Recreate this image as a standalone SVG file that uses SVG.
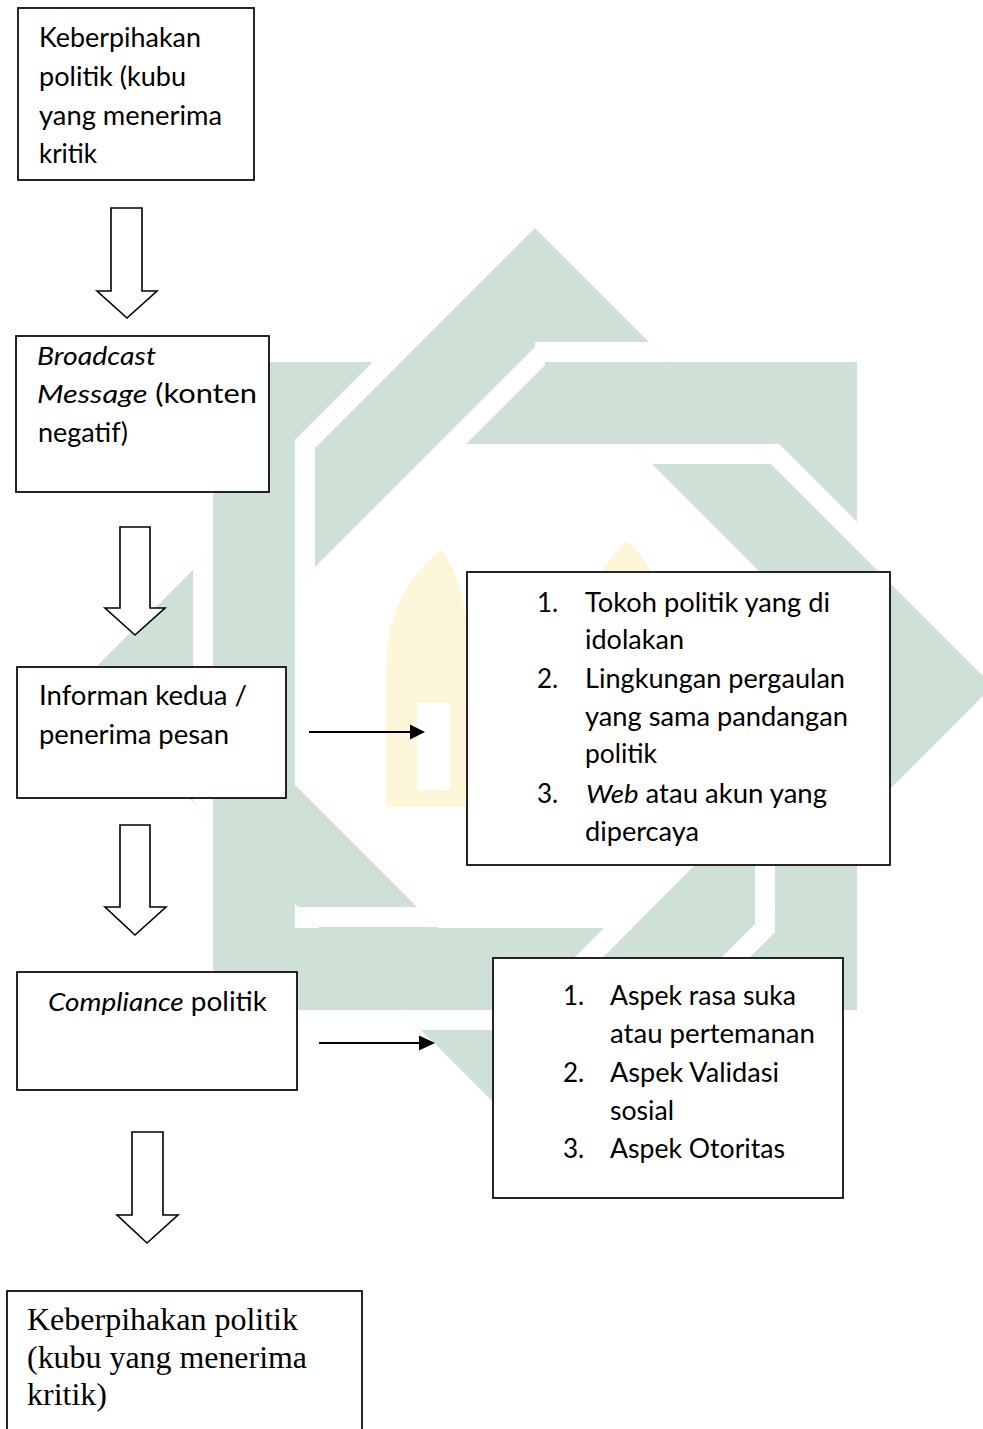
<svg xmlns="http://www.w3.org/2000/svg" width="983" height="1429" viewBox="0 0 983 1429">
<style>
.box{fill:#fff;stroke:#000;stroke-width:1.7}
.blk{fill:#fff;stroke:#000;stroke-width:1.6;stroke-linejoin:miter}
.ln{stroke:#000;stroke-width:2;fill:none}
.head{fill:#000}
.t{font-family:Lato,"Open Sans",sans-serif;font-size:26px;fill:#000}
.it{font-style:italic}
.s{font-family:"Liberation Serif","Times New Roman",serif;font-size:32px;fill:#000}
.wm{fill:#cfe0d7}
.gap{stroke:#fff;stroke-width:20;fill:none}
.yl{fill:#fdf6d8}
</style>
<defs>
<clipPath id="cSq"><path clip-rule="evenodd" d="M213,362H857V1010H213Z M295,444H775V928H295Z"/></clipPath>
<clipPath id="cDia"><path clip-rule="evenodd" d="M535,228L993,686L535,1144L77,686Z M535,347L874,686L535,1025L196,686Z"/></clipPath>
<clipPath id="L1"><rect x="180" y="420" width="150" height="266"/></clipPath>
<clipPath id="L2"><rect x="295" y="362" width="250" height="82"/></clipPath>
<clipPath id="L3"><rect x="535" y="330" width="255" height="140"/></clipPath>
<clipPath id="L4"><rect x="775" y="444" width="82" height="242"/></clipPath>
<clipPath id="L5"><rect x="750" y="686" width="130" height="264"/></clipPath>
<clipPath id="L6"><rect x="535" y="928" width="240" height="82"/></clipPath>
<clipPath id="L7"><rect x="290" y="900" width="245" height="140"/></clipPath>
<clipPath id="L8"><rect x="180" y="686" width="40" height="242"/></clipPath>
</defs>
<rect width="983" height="1429" fill="#fff"/>
<g id="watermark">
<path class="wm" fill-rule="evenodd" d="M213,362H857V1010H213Z M295,444H775V928H295Z"/>
<path class="wm" fill-rule="evenodd" d="M535,228L993,686L535,1144L77,686Z M535,347L874,686L535,1025L196,686Z"/>
<g clip-path="url(#cDia)"><g clip-path="url(#L1)"><path class="gap" d="M203,400V700 M305,400V700"/></g></g>
<g clip-path="url(#cSq)"><g clip-path="url(#L2)"><path class="gap" d="M250,499L550,199 M350,546L650,246"/></g></g>
<g clip-path="url(#cDia)"><g clip-path="url(#L3)"><path class="gap" d="M500,352H800 M500,454H800"/></g></g>
<g clip-path="url(#cSq)"><g clip-path="url(#L4)"><path class="gap" d="M700,379L900,579 M700,526L900,726"/></g></g>
<g clip-path="url(#cDia)"><g clip-path="url(#L5)"><path class="gap" d="M765,650V1000 M867,650V1000"/></g></g>
<g clip-path="url(#cSq)"><g clip-path="url(#L6)"><path class="gap" d="M660,1033L800,893 M510,1036L660,886"/></g></g>
<g clip-path="url(#cDia)"><g clip-path="url(#L7)"><path class="gap" d="M280,917H560 M280,1020H560"/></g></g>
<g clip-path="url(#cDia)"><g clip-path="url(#L8)"><path class="gap" d="M203,680V940"/></g></g>
<path class="yl" fill-rule="evenodd" d="M386,807V665Q388,590 442,550Q466,585 468,640V807Z M417,703H450V790H417Z"/>
<path class="yl" d="M602,574Q612,552 627,541Q642,553 652,574Z"/>
</g>
<g id="connectors">
<polygon class="blk" points="111,208 142,208 142,291 157,291 127,318 97,291 111,291"/>
<polygon class="blk" points="120,527 150,527 150,608 165,608 135,635 105,608 120,608"/>
<polygon class="blk" points="120,825 150,825 150,907 166,907 135,935 105,907 120,907"/>
<polygon class="blk" points="132,1132 163,1132 163,1215 178,1215 147,1243 117,1215 132,1215"/>
<line class="ln" x1="309" y1="732" x2="412" y2="732"/>
<polygon class="head" points="410,724.5 425,732 410,739.5"/>
<line class="ln" x1="319" y1="1043" x2="421" y2="1043"/>
<polygon class="head" points="419,1035.5 435,1043 419,1050.5"/>
</g>
<g id="node-keberpihakan-1">
<rect class="box" x="18" y="8" width="236" height="172"/>
<text class="t" x="39" y="47" textLength="162" lengthAdjust="spacingAndGlyphs">Keberpihakan</text>
<text class="t" x="39" y="86" textLength="147" lengthAdjust="spacingAndGlyphs">politik (kubu</text>
<text class="t" x="39" y="125" textLength="183" lengthAdjust="spacingAndGlyphs">yang menerima</text>
<text class="t" x="39" y="163" textLength="58" lengthAdjust="spacingAndGlyphs">kritik</text>
</g>
<g id="node-broadcast">
<rect class="box" x="16" y="336" width="253" height="156"/>
<text class="t it" x="37" y="365" textLength="119" lengthAdjust="spacingAndGlyphs">Broadcast</text>
<text class="t" x="37" y="403" textLength="220" lengthAdjust="spacingAndGlyphs"><tspan class="it">Message</tspan> (konten</text>
<text class="t" x="38" y="442" textLength="90" lengthAdjust="spacingAndGlyphs">negatif)</text>
</g>
<g id="node-informan">
<rect class="box" x="17" y="667" width="269" height="131"/>
<text class="t" x="39" y="705" textLength="208" lengthAdjust="spacingAndGlyphs">Informan kedua /</text>
<text class="t" x="39" y="744" textLength="190" lengthAdjust="spacingAndGlyphs">penerima pesan</text>
</g>
<g id="node-faktor">
<rect class="box" x="467" y="572" width="423" height="293"/>
<text class="t" x="537" y="612">1.</text>
<text class="t" x="585" y="612" textLength="245" lengthAdjust="spacingAndGlyphs">Tokoh politik yang di</text>
<text class="t" x="585" y="649" textLength="99" lengthAdjust="spacingAndGlyphs">idolakan</text>
<text class="t" x="537" y="688">2.</text>
<text class="t" x="585" y="688" textLength="260" lengthAdjust="spacingAndGlyphs">Lingkungan pergaulan</text>
<text class="t" x="585" y="726" textLength="263" lengthAdjust="spacingAndGlyphs">yang sama pandangan</text>
<text class="t" x="585" y="763" textLength="72" lengthAdjust="spacingAndGlyphs">politik</text>
<text class="t" x="537" y="803">3.</text>
<text class="t" x="586" y="803" textLength="241" lengthAdjust="spacingAndGlyphs"><tspan class="it">Web</tspan> atau akun yang</text>
<text class="t" x="585" y="841" textLength="114" lengthAdjust="spacingAndGlyphs">dipercaya</text>
</g>
<g id="node-compliance">
<rect class="box" x="17" y="972" width="280" height="118"/>
<text class="t" x="48" y="1011" textLength="219" lengthAdjust="spacingAndGlyphs"><tspan class="it">Compliance</tspan> politik</text>
</g>
<g id="node-aspek">
<rect class="box" x="493" y="958" width="350" height="240"/>
<text class="t" x="563" y="1005">1.</text>
<text class="t" x="610" y="1005" textLength="186" lengthAdjust="spacingAndGlyphs">Aspek rasa suka</text>
<text class="t" x="610" y="1043" textLength="205" lengthAdjust="spacingAndGlyphs">atau pertemanan</text>
<text class="t" x="563" y="1082">2.</text>
<text class="t" x="610" y="1082" textLength="169" lengthAdjust="spacingAndGlyphs">Aspek Validasi</text>
<text class="t" x="610" y="1120" textLength="64" lengthAdjust="spacingAndGlyphs">sosial</text>
<text class="t" x="563" y="1158">3.</text>
<text class="t" x="610" y="1158" textLength="175" lengthAdjust="spacingAndGlyphs">Aspek Otoritas</text>
</g>
<g id="node-keberpihakan-2">
<rect class="box" x="7" y="1291" width="355" height="200"/>
<text class="s" x="27" y="1330" textLength="271" lengthAdjust="spacingAndGlyphs">Keberpihakan politik</text>
<text class="s" x="27" y="1368" textLength="280" lengthAdjust="spacingAndGlyphs">(kubu yang menerima</text>
<text class="s" x="27" y="1405" textLength="80" lengthAdjust="spacingAndGlyphs">kritik)</text>
</g>
</svg>
